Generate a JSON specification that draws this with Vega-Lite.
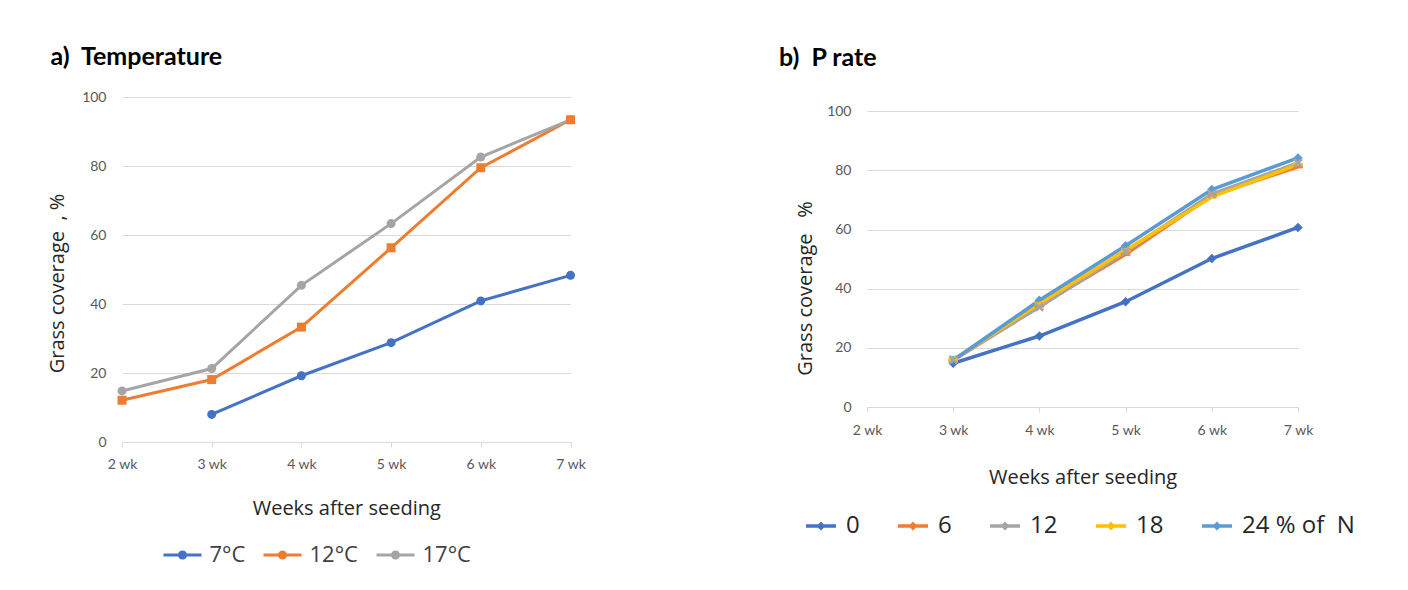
{
  "$schema": "https://vega.github.io/schema/vega-lite/v6.json",
  "background": "white",
  "padding": {"left": 47, "top": 45, "right": 5, "bottom": 5},
  "bounds": "flush",
  "spacing": 296,
  "config": {
    "view": {"stroke": null},
    "font": "Open Sans",
    "axis": {
      "labelFont": "Lato",
      "labelFontSize": 14,
      "labelColor": "#595959",
      "titleFont": "Open Sans",
      "titleFontSize": 20,
      "titleFontWeight": "normal",
      "titleColor": "#262626",
      "gridColor": "#d9d9d9",
      "domainColor": "#d9d9d9",
      "tickColor": "#d9d9d9",
      "labelOverlap": false,
      "labelFlush": false
    }
  },
  "resolve": {
    "scale": {"x": "independent", "y": "independent", "color": "independent"},
    "legend": {"color": "independent"}
  },
  "datasets": {
    "temp": [
      {"week": 3, "cov": 8.0, "series": "7°C"},
      {"week": 4, "cov": 19.2, "series": "7°C"},
      {"week": 5, "cov": 28.8, "series": "7°C"},
      {"week": 6, "cov": 40.9, "series": "7°C"},
      {"week": 7, "cov": 48.3, "series": "7°C"},
      {"week": 2, "cov": 12.1, "series": "12°C"},
      {"week": 3, "cov": 18.1, "series": "12°C"},
      {"week": 4, "cov": 33.3, "series": "12°C"},
      {"week": 5, "cov": 56.3, "series": "12°C"},
      {"week": 6, "cov": 79.5, "series": "12°C"},
      {"week": 7, "cov": 93.4, "series": "12°C"},
      {"week": 2, "cov": 14.8, "series": "17°C"},
      {"week": 3, "cov": 21.3, "series": "17°C"},
      {"week": 4, "cov": 45.4, "series": "17°C"},
      {"week": 5, "cov": 63.3, "series": "17°C"},
      {"week": 6, "cov": 82.6, "series": "17°C"},
      {"week": 7, "cov": 93.4, "series": "17°C"}
    ],
    "prate": [
      {"week": 3, "cov": 14.8, "series": "0"},
      {"week": 4, "cov": 24.0, "series": "0"},
      {"week": 5, "cov": 35.6, "series": "0"},
      {"week": 6, "cov": 50.2, "series": "0"},
      {"week": 7, "cov": 60.7, "series": "0"},
      {"week": 3, "cov": 15.8, "series": "6"},
      {"week": 4, "cov": 34.2, "series": "6"},
      {"week": 5, "cov": 51.6, "series": "6"},
      {"week": 6, "cov": 71.5, "series": "6"},
      {"week": 7, "cov": 81.2, "series": "6"},
      {"week": 3, "cov": 16.0, "series": "12"},
      {"week": 4, "cov": 33.8, "series": "12"},
      {"week": 5, "cov": 52.5, "series": "12"},
      {"week": 6, "cov": 72.0, "series": "12"},
      {"week": 7, "cov": 82.5, "series": "12"},
      {"week": 3, "cov": 16.0, "series": "18"},
      {"week": 4, "cov": 35.0, "series": "18"},
      {"week": 5, "cov": 53.0, "series": "18"},
      {"week": 6, "cov": 71.0, "series": "18"},
      {"week": 7, "cov": 82.0, "series": "18"},
      {"week": 3, "cov": 15.8, "series": "24"},
      {"week": 4, "cov": 36.1, "series": "24"},
      {"week": 5, "cov": 54.5, "series": "24"},
      {"week": 6, "cov": 73.5, "series": "24"},
      {"week": 7, "cov": 84.2, "series": "24"}
    ]
  },
  "hconcat": [
    {
      "width": 448.5,
      "height": 345,
      "title": {"text": "a)\u00a0\u00a0Temperature", "anchor": "start", "frame": "group", "dx": -71.5, "offset": -5, "baseline": "bottom", "font": "Lato", "fontSize": 25, "fontWeight": "bold", "color": "#000000"},
      "data": {"name": "temp"},
      "encoding": {
        "x": {"field": "week", "type": "quantitative", "scale": {"domain": [2, 7], "nice": false, "zero": false},
          "axis": {"values": [2, 3, 4, 5, 6, 7], "labelExpr": "datum.value + ' wk'", "title": "Weeks after seeding", "grid": false, "tickSize": 5, "labelPadding": 10, "titlePadding": 27}},
        "y": {"field": "cov", "type": "quantitative", "scale": {"domain": [0, 100], "nice": false},
          "axis": {"values": [0, 20, 40, 60, 80, 100], "title": "Grass coverage\u00a0\u00a0, %", "domain": false, "ticks": false, "labelPadding": 16, "titleX": -64.5, "titleY": 186, "titleBaseline": "middle", "titleAlign": "center", "titleAngle": 270}},
        "color": {"field": "series", "type": "nominal", "scale": {"domain": ["7°C", "12°C", "17°C"], "range": ["#4472C4", "#ED7D31", "#A5A5A5"]},
          "legend": {"title": null, "orient": "none", "legendX": 41.5, "legendY": 439, "direction": "horizontal", "padding": 0,
            "symbolSize": 1444, "symbolType": "M-1,-0.08H1V0.08H-1Z M0,-0.24A0.24,0.24 0 1,1 0,0.24A0.24,0.24 0 1,1 0,-0.24Z", "symbolStrokeWidth": 0,
            "labelFont": "Open Sans", "labelFontSize": 22, "labelColor": "#404040", "labelOffset": 8, "columnPadding": 18}
        }
      },
      "layer": [
        {
          "transform": [{"filter": "datum.series !== '12°C'"}],
          "mark": {"type": "point", "filled": true, "opacity": 1, "size": 81}
        },
        {
          "mark": {"type": "line", "strokeWidth": 3}
        },
        {
          "transform": [{"filter": "datum.series === '12°C'"}],
          "mark": {"type": "point", "filled": true, "opacity": 1, "size": 81, "shape": "square"}
        }
      ]
    },
    {
      "width": 431,
      "height": 310,
      "title": {"text": "b)\u00a0\u00a0P rate", "anchor": "start", "frame": "group", "dx": -88, "offset": 1, "baseline": "bottom", "font": "Lato", "fontSize": 25, "fontWeight": "bold", "color": "#000000"},
      "data": {"name": "prate"},
      "encoding": {
        "x": {"field": "week", "type": "quantitative", "scale": {"domain": [2, 7], "nice": false, "zero": false},
          "axis": {"values": [2, 3, 4, 5, 6, 7], "labelExpr": "datum.value + ' wk'", "title": "Weeks after seeding", "grid": false, "tickSize": 5, "labelPadding": 11, "titlePadding": 30}},
        "y": {"field": "cov", "type": "quantitative", "scale": {"domain": [0, 104.8], "nice": false},
          "axis": {"values": [0, 20, 40, 60, 80, 100], "title": "Grass coverage\u00a0\u00a0\u00a0%", "domain": false, "ticks": false, "labelPadding": 16, "titleX": -62, "titleY": 191, "titleBaseline": "middle", "titleAlign": "center", "titleAngle": 270}},
        "color": {"field": "series", "type": "nominal", "scale": {"domain": ["0", "6", "12", "18", "24"], "range": ["#4472C4", "#ED7D31", "#A5A5A5", "#FFC000", "#5B9BD5"]},
          "legend": {"title": null, "orient": "none", "legendX": -61, "legendY": 414, "direction": "horizontal", "padding": 0,
            "symbolSize": 900, "symbolType": "M-1,-0.11H1V0.11H-1Z M0,-0.3L0.3,0L0,0.3L-0.3,0Z", "symbolStrokeWidth": 0,
            "labelFont": "Open Sans", "labelFontSize": 24, "labelColor": "#262626", "labelOffset": 10, "columnPadding": 38,
            "labelExpr": "datum.label === '24' ? '24 % of\u00a0\u00a0N' : datum.label"}
        }
      },
      "layer": [
        {
          "transform": [{"filter": "datum.series === '0' || datum.series === '24'"}],
          "mark": {"type": "point", "filled": true, "opacity": 1, "size": 90, "shape": "diamond"}
        },
        {
          "mark": {"type": "line", "strokeWidth": 3.5}
        },
        {
          "transform": [{"filter": "datum.series === '6' || datum.series === '18'"}],
          "mark": {"type": "point", "filled": true, "opacity": 1, "size": 90, "shape": "M-1,-0.35H1V0.35H-1Z"}
        },
        {
          "transform": [{"filter": "datum.series === '12'"}],
          "mark": {"type": "point", "filled": true, "opacity": 1, "size": 90, "shape": "M-1,-0.6L-0.6,-1L0,-0.4L0.6,-1L1,-0.6L0.4,0L1,0.6L0.6,1L0,0.4L-0.6,1L-1,0.6L-0.4,0Z"}
        }
      ]
    }
  ]
}
